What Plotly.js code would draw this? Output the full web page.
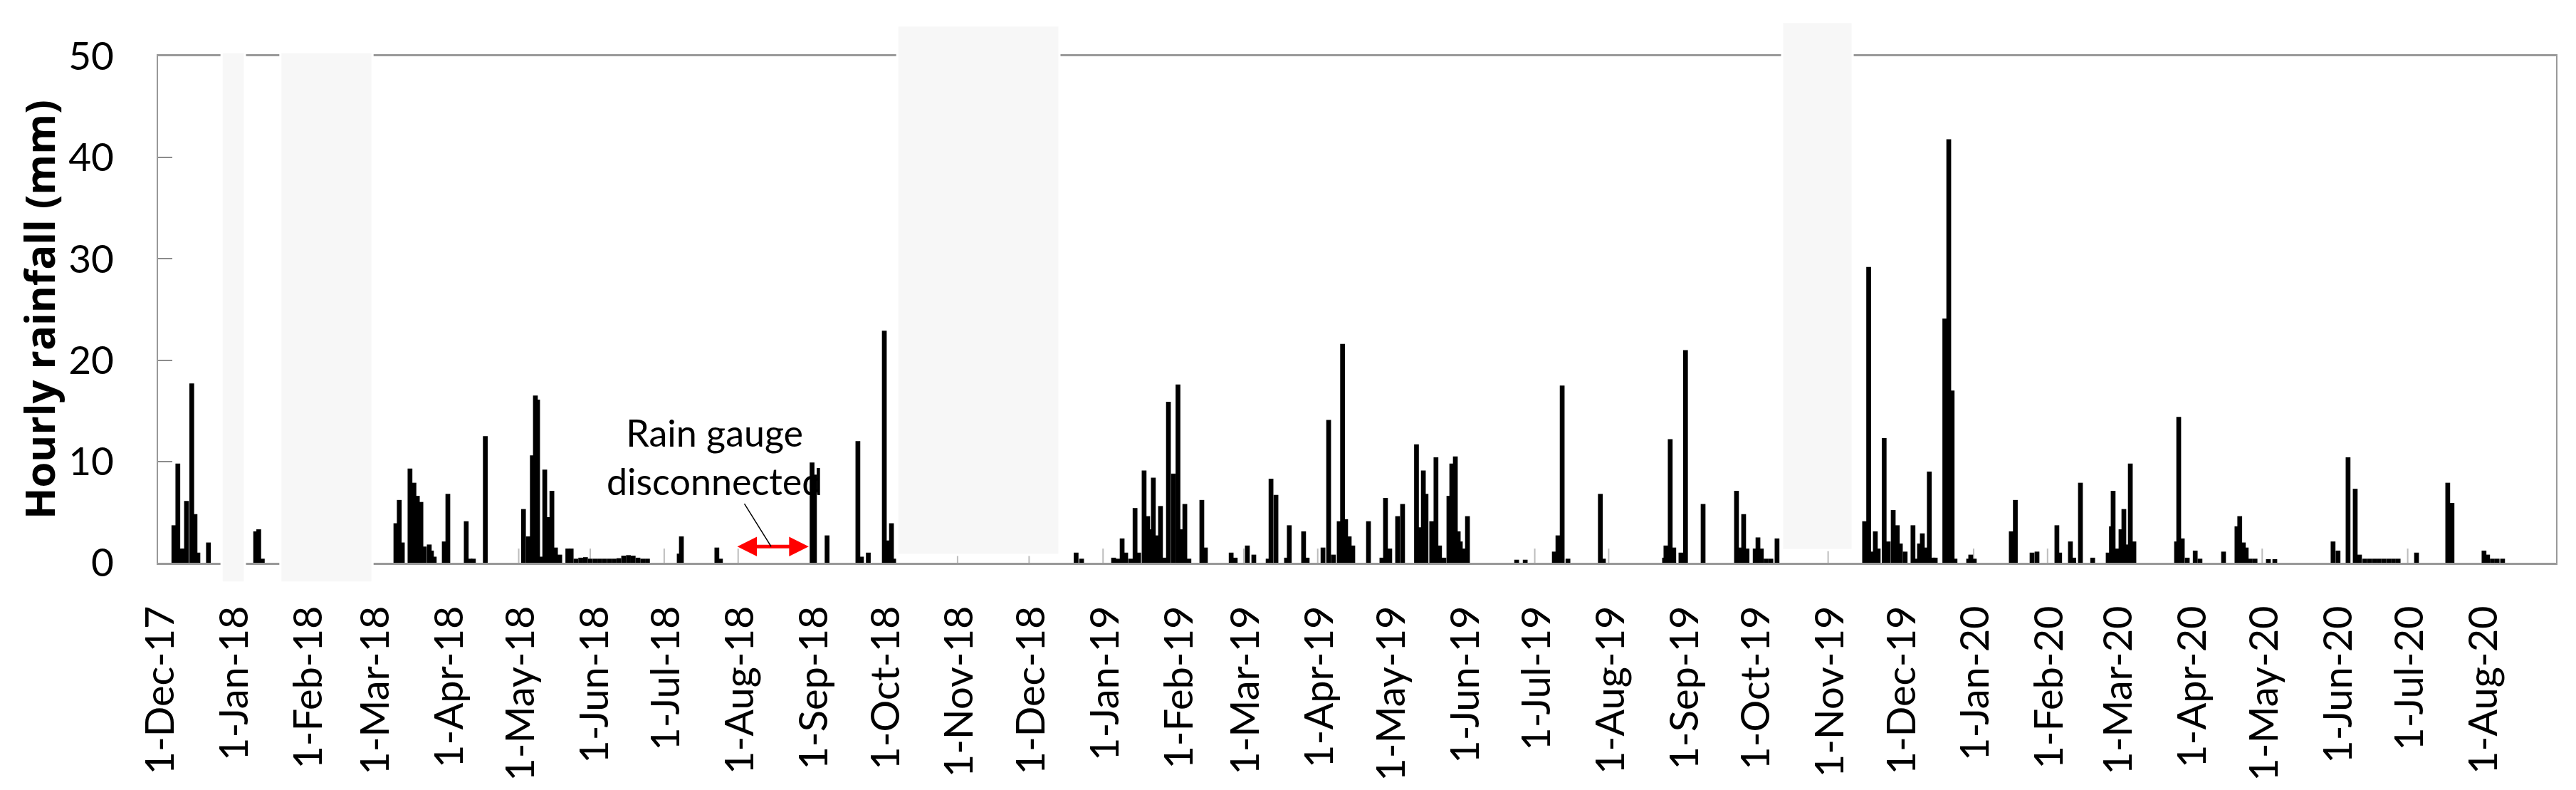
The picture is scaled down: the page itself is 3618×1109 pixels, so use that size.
<!DOCTYPE html>
<html>
<head>
<meta charset="utf-8">
<script src="https://cdn.plot.ly/plotly-3.0.1.min.js"></script>
<style>
  body { margin: 0; background: white; }
  #graph { width: 3618px; height: 1109px; }
</style>
</head>
<body>
<div id="graph"></div>
<script>
// hourly rainfall (mm)
var rainDates = [
 '2017-12-06 10:00','2017-12-08 02:00','2017-12-09 12:00','2017-12-10 12:00','2017-12-11 17:00',
 '2017-12-13 22:00','2017-12-15 07:00','2017-12-16 12:00','2017-12-20 22:00',
 '2018-01-09 17:00','2018-01-11 00:00','2018-01-12 12:00',
 '2018-03-09 12:00','2018-03-10 22:00','2018-03-12 05:00','2018-03-15 10:00','2018-03-17 02:00',
 '2018-03-18 12:00','2018-03-20 00:00','2018-03-21 10:00','2018-03-23 12:00','2018-03-24 10:00',
 '2018-03-25 14:00','2018-03-29 19:00','2018-03-31 07:00',
 '2018-04-08 00:00','2018-04-09 14:00','2018-04-11 00:00','2018-04-16 00:00',
 '2018-05-02 00:00','2018-05-04 00:00','2018-05-05 17:00','2018-05-07 00:00','2018-05-07 22:00',
 '2018-05-09 10:00','2018-05-10 22:00','2018-05-12 17:00','2018-05-13 22:00','2018-05-15 10:00',
 '2018-05-17 05:00','2018-05-20 14:00','2018-05-22 00:00',
 '2018-05-24','2018-05-26','2018-05-28','2018-05-30','2018-06-01','2018-06-03','2018-06-05',
 '2018-06-07','2018-06-09','2018-06-11','2018-06-13','2018-06-15','2018-06-17','2018-06-19',
 '2018-06-21','2018-06-23',
 '2018-07-06 07:00','2018-07-07 05:00','2018-07-22 02:00','2018-07-23 14:00',
 '2018-08-31 00:00','2018-09-01 00:00','2018-09-06 07:00','2018-09-19 05:00','2018-09-20 17:00','2018-09-23 14:00',
 '2018-09-30 07:00','2018-10-01 19:00','2018-10-03 07:00','2018-10-04 05:00',
 '2018-12-19 17:00','2018-12-22 00:00',
 '2019-01-04 10:00','2019-01-06 05:00','2019-01-08 00:00','2019-01-09 12:00','2019-01-11 14:00',
 '2019-01-13 10:00','2019-01-14 22:00','2019-01-17 05:00','2019-01-18 17:00','2019-01-20 00:00',
 '2019-01-21 02:00','2019-01-22 22:00','2019-01-24 02:00','2019-01-25 14:00','2019-01-27 10:00',
 '2019-01-29 12:00','2019-01-31 10:00','2019-02-02 00:00','2019-02-03 07:00','2019-02-05 00:00',
 '2019-02-10 10:00','2019-02-11 22:00','2019-02-22 17:00','2019-02-24 10:00',
 '2019-03-01 12:00','2019-03-04 05:00','2019-03-10 05:00','2019-03-11 10:00','2019-03-13 12:00',
 '2019-03-17 22:00','2019-03-19 02:00','2019-03-25 02:00','2019-03-26 14:00',
 '2019-04-02 05:00','2019-04-04 14:00','2019-04-06 14:00','2019-04-09 00:00','2019-04-10 10:00',
 '2019-04-11 17:00','2019-04-13 05:00','2019-04-14 17:00','2019-04-21 07:00','2019-04-26 22:00',
 '2019-04-28 10:00','2019-04-30 05:00',
 '2019-05-03 12:00','2019-05-05 14:00','2019-05-11 10:00','2019-05-12 19:00','2019-05-14 07:00',
 '2019-05-15 10:00','2019-05-17 19:00','2019-05-19 14:00','2019-05-21 02:00','2019-05-22 22:00',
 '2019-05-25 00:00','2019-05-26 05:00','2019-05-27 17:00','2019-05-28 22:00','2019-05-29 19:00',
 '2019-05-31 00:00','2019-06-01 19:00','2019-06-22 10:00','2019-06-26 00:00',
 '2019-07-08 05:00','2019-07-09 17:00','2019-07-11 12:00','2019-07-13 22:00','2019-07-27 12:00',
 '2019-07-28 19:00',
 '2019-08-23 10:00','2019-08-24 00:00','2019-08-25 19:00','2019-08-27 07:00','2019-08-30 07:00',
 '2019-09-01 05:00','2019-09-08 14:00','2019-09-22 14:00','2019-09-24 00:00','2019-09-25 14:00',
 '2019-09-27 00:00','2019-09-30 10:00','2019-10-01 14:00','2019-10-03 00:00','2019-10-05 00:00',
 '2019-10-07 00:00','2019-10-09 14:00',
 '2019-11-15 07:00','2019-11-17 00:00','2019-11-18 07:00','2019-11-19 19:00','2019-11-21 00:00',
 '2019-11-23 12:00','2019-11-25 05:00','2019-11-27 07:00','2019-11-29 00:00','2019-11-30 07:00',
 '2019-12-02 07:00','2019-12-05 14:00','2019-12-07 02:00','2019-12-08 07:00','2019-12-09 12:00',
 '2019-12-10 17:00','2019-12-12 10:00','2019-12-14 00:00','2019-12-14 22:00','2019-12-18 22:00',
 '2019-12-20 14:00','2019-12-22 00:00','2019-12-23 05:00','2019-12-28 22:00','2019-12-29 19:00',
 '2019-12-31 07:00',
 '2020-01-15 19:00','2020-01-17 12:00','2020-01-24 12:00','2020-01-26 14:00',
 '2020-02-03 22:00','2020-02-05 02:00','2020-02-09 14:00','2020-02-11 00:00','2020-02-13 19:00',
 '2020-02-18 22:00','2020-02-25 10:00','2020-02-26 19:00','2020-02-27 12:00','2020-02-29 00:00',
 '2020-03-01 19:00','2020-03-03 00:00','2020-03-04 12:00','2020-03-05 17:00','2020-03-07 05:00',
 '2020-03-25 02:00','2020-03-26 00:00','2020-03-27 12:00','2020-03-29 14:00',
 '2020-04-01 22:00','2020-04-03 22:00','2020-04-13 19:00','2020-04-19 10:00','2020-04-20 14:00',
 '2020-04-22 02:00','2020-04-23 07:00','2020-04-25 00:00','2020-04-27 00:00',
 '2020-05-02 14:00','2020-05-05 07:00','2020-05-29 17:00','2020-05-31 19:00',
 '2020-06-05 00:00','2020-06-08 00:00','2020-06-09 19:00','2020-06-12','2020-06-14','2020-06-16',
 '2020-06-18','2020-06-20','2020-06-22','2020-06-24','2020-06-26',
 '2020-07-03 17:00','2020-07-16 19:00','2020-07-18 14:00',
 '2020-08-01 00:00','2020-08-02 12:00','2020-08-04 12:00','2020-08-06 12:00','2020-08-08 19:00'
];
var rainMm = [
 3.7,9.8,1.4,1.4,6.1,
 17.7,4.8,1.0,2.0,
 3.1,3.3,0.4,
 3.9,6.2,2.0,9.3,7.9,
 6.6,6.0,1.6,1.8,1.2,
 0.6,2.1,6.8,
 4.1,0.4,0.4,12.5,
 5.3,2.6,10.6,16.5,16.1,
 0.6,9.2,4.5,7.1,1.5,
 0.8,1.4,1.4,
 0.4,0.5,0.55,0.4,0.4,0.4,0.4,
 0.4,0.4,0.45,0.7,0.75,0.7,0.5,
 0.4,0.4,
 0.9,2.6,1.5,0.4,
 9.9,8.7,2.7,12.0,0.6,1.0,
 22.9,2.2,3.9,0.4,
 1.0,0.4,
 0.5,0.4,2.4,1.0,0.4,
 5.4,1.0,9.1,4.6,3.3,
 8.4,2.7,5.6,0.5,15.9,
 8.8,17.6,3.3,5.8,0.4,
 6.2,1.5,1.0,0.5,
 1.7,0.8,0.4,8.3,6.7,
 0.5,3.7,3.1,0.5,
 1.5,14.1,0.8,4.1,21.6,
 4.3,2.6,1.7,4.1,0.5,
 6.4,1.4,
 4.6,5.8,11.7,3.5,9.1,
 6.8,4.1,10.4,1.7,0.5,
 6.6,9.8,10.5,3.1,2.1,
 1.4,4.6,0.3,0.3,
 1.1,2.7,17.5,0.4,6.8,
 0.4,
 0.5,1.7,12.2,1.5,1.0,
 21.0,5.8,7.1,1.5,4.8,
 1.4,1.4,2.5,1.4,0.4,
 0.4,2.4,
 4.1,29.2,1.1,3.1,1.4,
 12.3,2.1,5.2,3.7,1.9,
 1.1,3.7,0.4,1.9,2.9,
 1.5,9.0,0.5,0.5,24.1,
 41.8,17.0,0.4,0.4,0.8,
 0.4,
 3.1,6.2,1.0,1.1,
 3.7,1.0,2.1,0.5,7.9,
 0.5,1.0,3.6,7.1,1.4,
 3.3,5.3,1.8,9.8,2.1,
 2.1,14.4,2.4,0.5,
 1.2,0.4,1.1,3.6,4.6,
 2.0,1.5,0.4,0.4,
 0.35,0.35,2.1,1.2,
 10.4,7.3,0.8,0.4,0.4,0.4,
 0.4,0.4,0.4,0.4,0.4,
 1.0,7.9,5.9,
 1.2,0.8,0.4,0.4,0.4
];

// thin grey marks that sit on the last day of some months
var monthEndDates = ['2018-04-30','2018-05-30','2018-06-30','2018-07-31','2018-10-31','2018-11-30',
 '2018-12-31','2019-02-28','2019-03-31','2019-06-30','2019-07-31','2019-10-31','2019-12-31',
 '2020-01-31','2020-04-30','2020-06-30'];
var monthEndMm = [1.4,1.4,1.4,1.4,1.4,1.4,1.4,1.4,1.4,1.4,1.4,1.4,1.4,1.4,1.4,1.4];

// periods without data (grey boxes)
var gapStart = ['2017-12-26 10:00','2018-01-20 02:00','2018-10-05 17:00','2019-10-11 17:00'];
var gapEnd = ['2018-01-05 05:00','2018-02-27 17:00','2018-12-12 17:00','2019-11-10 07:00'];

// rain gauge disconnected
var gaugeOffStart = '2018-07-30 05:00';
var gaugeOffEnd = '2018-08-29 14:00';

var tickDates = ['2017-12-01','2018-01-01','2018-02-01','2018-03-01','2018-04-01','2018-05-01',
 '2018-06-01','2018-07-01','2018-08-01','2018-09-01','2018-10-01','2018-11-01','2018-12-01',
 '2019-01-01','2019-02-01','2019-03-01','2019-04-01','2019-05-01','2019-06-01','2019-07-01',
 '2019-08-01','2019-09-01','2019-10-01','2019-11-01','2019-12-01','2020-01-01','2020-02-01',
 '2020-03-01','2020-04-01','2020-05-01','2020-06-01','2020-07-01','2020-08-01'];
var tickText = ['1-Dec-17','1-Jan-18','1-Feb-18','1-Mar-18','1-Apr-18','1-May-18','1-Jun-18',
 '1-Jul-18','1-Aug-18','1-Sep-18','1-Oct-18','1-Nov-18','1-Dec-18','1-Jan-19','1-Feb-19',
 '1-Mar-19','1-Apr-19','1-May-19','1-Jun-19','1-Jul-19','1-Aug-19','1-Sep-19','1-Oct-19',
 '1-Nov-19','1-Dec-19','1-Jan-20','1-Feb-20','1-Mar-20','1-Apr-20','1-May-20','1-Jun-20',
 '1-Jul-20','1-Aug-20'];

DrawRain()

function DrawRain() {
    var DAY = 86400000;
    var marks = {
        x: monthEndDates,
        y: monthEndMm,
        type: 'bar',
        width: 0.6 * DAY,
        marker: {color: '#bdbdbd', line: {width: 0}},
        hoverinfo: 'skip'
    };
    var rain = {
        x: rainDates,
        y: rainMm,
        type: 'bar',
        width: 2.0 * DAY,
        marker: {color: 'black', line: {width: 0}},
        name: 'Hourly rainfall'
    };

    // vertical reach of each grey box (paper units)
    var boxY = [[-0.039, 1.008], [-0.039, 1.008], [0.0155, 1.061], [0.025, 1.068]];
    var shapes = [];
    for (var i = 0; i < gapStart.length; i++) {
        shapes.push({
            type: 'rect', layer: 'above',
            xref: 'x', yref: 'paper',
            x0: gapStart[i], x1: gapEnd[i],
            y0: boxY[i][0], y1: boxY[i][1],
            fillcolor: '#f7f7f7',
            line: {color: 'white', width: 3}
        });
    }

    var layout = {
        width: 3618,
        height: 1109,
        margin: {l: 222, r: 28, t: 79, b: 319},
        paper_bgcolor: 'white',
        plot_bgcolor: 'white',
        showlegend: false,
        barmode: 'overlay',
        xaxis: {
            type: 'date',
            range: ['2017-11-29 19:00', '2020-08-31 05:00'],
            tickvals: tickDates,
            ticktext: tickText,
            tickangle: -90,
            ticks: '',
            ticklabelstandoff: 35,
            tickfont: {family: 'Lato', size: 56, color: 'black'},
            showgrid: false,
            zeroline: false,
            showline: true,
            linecolor: '#999999',
            linewidth: 3,
            mirror: true
        },
        yaxis: {
            range: [0, 50],
            dtick: 10,
            ticks: 'inside',
            ticklen: 20,
            tickwidth: 2,
            tickcolor: '#8c8c8c',
            ticklabelstandoff: 49,
            tickfont: {family: 'Lato', size: 55, color: 'black'},
            showgrid: false,
            zeroline: false,
            showline: true,
            linecolor: '#999999',
            linewidth: 2,
            mirror: true,
            automargin: true,
            title: {
                text: 'Hourly rainfall (mm)',
                standoff: 0,
                font: {family: 'Open Sans', size: 58, color: 'black', weight: 'bold'}
            }
        },
        shapes: shapes,
        annotations: [{
            xref: 'x', yref: 'y', axref: 'x', ayref: 'y',
            x: gaugeOffEnd, y: 1.6,
            ax: gaugeOffStart, ay: 1.6,
            text: '',
            showarrow: true,
            arrowside: 'end+start',
            arrowhead: 2, startarrowhead: 2,
            arrowsize: 1.1, startarrowsize: 1.1,
            arrowwidth: 5,
            arrowcolor: '#ff0000',
            standoff: 0, startstandoff: 0
        }, {
            xref: 'x', yref: 'y', axref: 'x', ayref: 'y',
            x: '2018-08-13 20:00', y: 1.6,
            ax: '2018-07-21 05:00', ay: 10.5,
            text: 'Rain gauge<br>disconnected',
            font: {family: 'Lato', size: 52, color: 'black'},
            showarrow: true,
            arrowhead: 0,
            arrowwidth: 1.5,
            arrowcolor: 'black'
        }]
    };

    Plotly.newPlot('graph', [marks, rain], layout, {staticPlot: true});
}
</script>
</body>
</html>
